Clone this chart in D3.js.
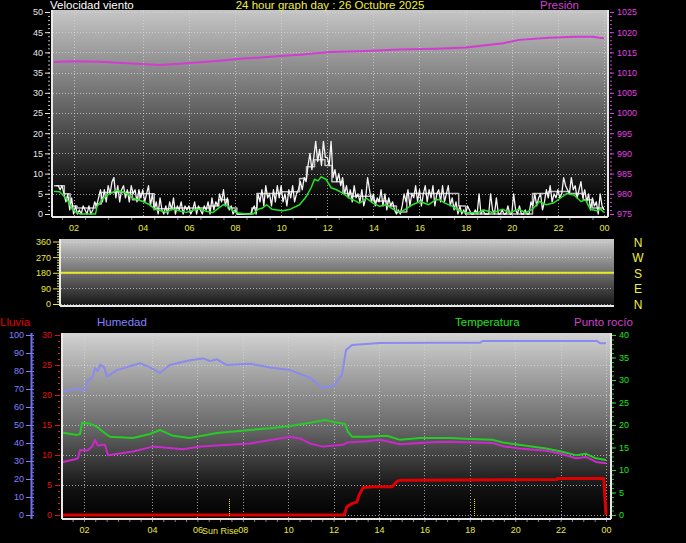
<!DOCTYPE html>
<html><head><meta charset="utf-8">
<script src="https://cdn.jsdelivr.net/npm/d3@7"></script>
<style>
html,body{margin:0;padding:0;background:#000;overflow:hidden}
svg{display:block}
</style></head><body>
<svg id="c" width="686" height="543"></svg>
<script>
// ---------- DATA ----------
// elapsed hours of the (25h, DST-change) day shown on a 24h axis
const hourTicks  = [1,4,6,8,10,12,14,16,18,20,22,24];
const hourLabels = ["02","04","06","08","10","12","14","16","18","20","22","00"];

const windStart = 0.25, windStep = 1/12;   // 5-minute samples
const windSpeed = [
 7,7,6,7,5, 3,5,1,4,0, 2,0,1,0,2,1,0,2,0,1, 3,2,4,6,3, 6,3,7,5,8,9,4,7,3,6,7,4,6,3,7, 5,6,3,6,4,
 6,3,5,7,2,5,1,3,0,4,1,0,
 2,0,3,1,4,0,2,1,3,0,2,1,
 2,0,1,3,0,2,1,0,2,1,3,0,
 4,1,3,2,5,3,6,2,4,1,2,0,
 1,0,0,0,0,0,0,0,0,1,2,0,
 5,3,6,2,7,4,5,2,6,3,7,4,
 7,3,5,2,6,4,7,3,5,6,8,6,
 9,8,12,15,11,14,18,13,16,12,18,14,
 14,12,18,9,11,8,10,7,9,5,7,4,
 6,3,7,4,5,3,6,2,4,9,6,3,
 5,2,4,3,6,2,5,1,4,2,3,1,
 0,1,0,2,5,3,6,2,5,4,7,3,
 6,2,5,7,3,6,4,7,2,5,6,3,
 7,3,5,7,2,4,1,3,0,2,0,1,
 0,2,1,0,0,1,0,5,0,1,0,0,
 0,5,1,0,4,0,0,1,0,0,2,0,
 0,5,1,0,2,0,0,1,0,0,3,2,
 5,2,4,5,1,3,6,4,7,3,5,4,
 6,4,5,9,7,6,5,9,6,7,4,6,
 8,4,6,3,5,1,4,2,3,0,5,2,
 1];

const windGust = [[0.15,7],[0.6,5],[0.85,2],[1.15,1.5],[1.95,2.5],[2.2,5.3],[2.8,5.5],[3.1,5.3],[3.55,3.5],[3.85,5],[4.5,1.3],[5.3,1.5],[5.9,1.5],[6.9,2],[7.3,3.5],[7.7,1.5],[8.08,0],[8.73,1.5],[8.95,5.1],[10.0,5.5],[10.8,8.8],[11.1,11.7],[11.45,13.4],[11.9,12],[12.2,8],[12.68,5.1],[13.1,4.4],[14.0,3.2],[14.6,2],[15.0,0.5],[15.45,5.1],[17.7,2],[18.0,0],[20.9,5.1],[21.6,5.6],[22.5,5.1],[23.1,3.5],[23.5,1.5],[24,1.5]];

const windAvg = [[0.15,5.6],[0.4,5.5],[0.73,3.5],[0.94,1.2],[1.15,0.3],[1.3,0],[1.95,0],[2.02,1.9],[2.23,3.5],[2.44,4.6],[2.88,5.9],[3.1,5.5],[3.3,5.1],[3.58,3.9],[4.01,3.1],[4.3,2.3],[4.52,1.2],[4.8,0.8],[5.03,0.4],[5.25,1.2],[5.46,1.0],[5.7,0.6],[5.9,0.4],[6.2,1.0],[6.47,1.2],[6.8,0.6],[7.05,0.4],[7.3,1.5],[7.5,2.3],[7.7,2.0],[7.9,0.8],[8.06,0.3],[8.5,0],[8.8,0],[9.0,1.2],[9.2,1.5],[9.37,2.3],[9.6,1.2],[10.07,0.8],[10.4,1.2],[10.8,2.3],[11.1,4.4],[11.3,6.5],[11.45,8.6],[11.6,8.2],[11.74,9.2],[11.94,8.6],[12.17,6.5],[12.4,6.0],[12.68,5.1],[12.97,3.9],[13.2,3.3],[13.4,2.7],[13.7,3.9],[13.98,2.7],[14.27,1.9],[14.55,2.3],[14.85,1.2],[15.14,0.4],[15.4,1.2],[15.7,2.3],[16.02,3.1],[16.4,2.3],[16.7,3.5],[16.89,3.5],[17.1,2.7],[17.4,2.0],[17.7,0.8],[18.0,0.4],[18.5,0.3],[18.8,1.0],[19.2,0.3],[19.6,1.2],[19.9,0.3],[20.3,1.2],[20.6,0.3],[20.9,1.2],[21.2,3.1],[21.5,2.3],[21.8,2.7],[22.1,3.9],[22.4,5.1],[22.7,4.7],[23.0,3.1],[23.2,3.5],[23.4,1.2],[23.7,0.8],[23.85,1.2],[24,0.4]];

const pressure = [[0.15,1012.6],[1.0,1012.8],[2.15,1012.7],[3.32,1012.3],[4.75,1011.9],[5.92,1012.3],[7.22,1012.9],[8.22,1013.4],[9.96,1014.1],[10.82,1014.4],[12.12,1015.1],[13.42,1015.3],[15.16,1015.7],[16.72,1015.9],[18.02,1016.2],[19.63,1017.25],[20.32,1018.1],[21.63,1018.6],[22.8,1018.9],[23.5,1018.9],[23.8,1018.6],[24,1018.5]];

const windTicks = [0,5,10,15,20,25,30,35,40,45,50];
const pressTicks = [975,980,985,990,995,1000,1005,1010,1015,1020,1025];

const dirTicks = [0,90,180,270,360];
const dirLetters = ["N","E","S","W","N"]; // at 0,90,180,270,360
const windDir = [[0,180],[24,180]];

const humidity = [[0.08,68.5],[0.7,70.5],[0.92,69],[1.05,69.4],[1.18,75],[1.36,76],[1.49,81.6],[1.62,80],[1.71,83.5],[1.89,82],[2.02,76.9],[2.46,80.5],[3.47,84.3],[3.91,82],[4.35,79],[4.79,83.3],[5.67,86],[6.25,87],[6.56,85.5],[6.86,86.5],[7.3,83.3],[8.32,84],[9.2,82],[10.08,80.5],[11.0,76],[11.49,70.5],[12.02,72],[12.37,78],[12.55,91.7],[12.81,94.4],[14.04,95.5],[16.51,95.7],[18.45,95.7],[18.58,96.7],[23.6,96.7],[23.74,95.4],[24,95.4]];

const temperature = [[0.08,18.3],[0.7,17.8],[0.83,18.0],[0.92,20.5],[1.27,20.3],[1.58,19.6],[1.84,18.5],[2.15,17.4],[3.16,17.1],[3.91,18.0],[4.35,18.9],[4.93,17.6],[5.67,17.1],[6.86,18.2],[8.32,18.9],[9.2,19.3],[10.08,19.8],[10.96,20.5],[11.62,21.1],[12.06,20.6],[12.5,20.2],[12.63,18.5],[12.81,17.4],[13.47,17.4],[14.35,17.6],[14.93,16.7],[15.8,17.1],[17.13,17.1],[18.0,16.9],[19.02,16.7],[19.46,16.1],[20.17,15.6],[21.36,14.8],[22.02,14.1],[22.68,13.3],[23.12,13.6],[23.56,12.6],[24,12.2]];

const dewpoint = [[0.08,11.8],[0.61,12.4],[0.74,12.6],[0.83,14.4],[1.18,14.4],[1.36,15.2],[1.49,16.7],[1.62,15.4],[1.8,15.6],[1.93,15.6],[2.06,13.3],[3.16,14.1],[4.04,15.2],[5.37,14.6],[6.11,15.2],[8.32,15.9],[10.08,17.4],[10.52,17.0],[10.96,15.9],[11.53,15.2],[12.41,15.6],[12.59,16.1],[13.47,16.4],[14.04,16.7],[14.93,15.7],[16.51,16.2],[17.13,16.3],[19.02,16.0],[19.46,15.3],[20.17,14.8],[21.36,14.3],[22.02,13.6],[22.68,12.6],[23.12,12.9],[23.56,11.8],[24,11.5]];

const rain = [[0.08,0],[12.46,0],[12.59,1.4],[12.81,1.9],[13.03,2.2],[13.12,3.3],[13.3,4.6],[13.74,4.7],[14.57,4.7],[14.79,5.6],[14.93,5.8],[21.84,5.9],[21.86,6.1],[23.9,6.1],[24.0,0]];

const humTicks  = [0,10,20,30,40,50,60,70,80,90,100];
const rainTicks = [0,5,10,15,20,25,30];
const tempTicks = [0,5,10,15,20,25,30,35,40];
const sunRise = 7.4, sunSet = 18.2;

// ---------- DRAW ----------
const FONT = '"Liberation Sans Narrow","Liberation Sans",Arial,sans-serif';
const svg = d3.select("#c");
const defs = svg.append("defs");
function grad(id, stops){
  const g = defs.append("linearGradient").attr("id",id).attr("x1",0).attr("y1",0).attr("x2",0).attr("y2",1);
  stops.forEach(s=>g.append("stop").attr("offset",s[0]).attr("stop-color",s[1]));
}
grad("gTop",[[0,"#c6c6c6"],[0.5,"#5e5e5e"],[0.9,"#080808"],[1,"#000"]]);
grad("gMid",[[0,"#cacaca"],[1,"#141414"]]);
grad("gBot",[[0,"#d2d2d2"],[0.5,"#6a6a6a"],[0.85,"#101010"],[1,"#000"]]);

const range = (a,b,s)=>d3.range(a,b+s/2,s);

function panel(x0,y0,x1,y1,gid){
  svg.append("rect").attr("x",x0).attr("y",y0).attr("width",x1-x0).attr("height",y1-y0).attr("fill",`url(#${gid})`);
}
function border(x0,y0,x1,y1,right){
  const g = svg.append("g").attr("stroke","#e8e8e8").attr("stroke-width",2);
  g.append("line").attr("x1",x0).attr("x2",x0).attr("y1",y0).attr("y2",y1);
  g.append("line").attr("x1",x0).attr("x2",x1).attr("y1",y1).attr("y2",y1);
  if(right) g.append("line").attr("x1",x1).attr("x2",x1).attr("y1",y0).attr("y2",y1);
}
function gridH(vals, y, x0, x1){
  svg.append("g").selectAll("line").data(vals).join("line")
    .attr("x1",x0).attr("x2",x1).attr("y1",d=>Math.round(y(d))+0.5).attr("y2",d=>Math.round(y(d))+0.5)
    .attr("stroke","#d8d8d8").attr("stroke-opacity",0.7).attr("stroke-dasharray","1,2");
}
function gridV(vals, x, y0, y1){
  svg.append("g").selectAll("line").data(vals).join("line")
    .attr("x1",d=>Math.round(x(d))+0.5).attr("x2",d=>Math.round(x(d))+0.5).attr("y1",y0).attr("y2",y1)
    .attr("stroke","#d8d8d8").attr("stroke-opacity",0.7).attr("stroke-dasharray","1,2");
}
function styleAxis(g, color, size){
  g.attr("font-family",FONT).attr("font-size",size||9);
  g.select(".domain").remove();
  g.selectAll("line").attr("stroke",color);
  g.selectAll("text").attr("fill",color);
  return g;
}
function minor(axisFn, scale, vals, pos, color, size, vertical){
  const ax = axisFn(scale).tickValues(vals).tickSize(size).tickFormat("");
  const g = svg.append("g").attr("transform", vertical ? `translate(${pos},0)` : `translate(0,${pos})`).call(ax);
  styleAxis(g,color);
}
function path(data, x, y, color, w, curve){
  svg.append("path").datum(data)
    .attr("d", d3.line().x(d=>x(d[0])).y(d=>y(d[1])).curve(curve||d3.curveLinear))
    .attr("fill","none").attr("stroke",color).attr("stroke-width",w).attr("stroke-linejoin","round");
}
const fmtInt = d3.format("d");

// ===== top panel: wind speed & pressure =====
const xTop = d3.scaleLinear().domain([0,24]).range([50.5,604]);
const yWind = d3.scaleLinear().domain([0,50]).range([214,12]);
const yPress = d3.scaleLinear().domain([975,1025]).range([214,12]);
panel(52,10,608,217,"gTop");
gridH(windTicks.slice(1), yWind, 53, 607);
gridV(hourTicks, xTop, 11, 216);

path(pressure, xTop, yPress, "#d23cd2", 2);
path(windGust, xTop, yWind, "#bcbcbc", 1.5, d3.curveStepAfter);
path(windSpeed.map((v,i)=>[windStart+i*windStep, v]), xTop, yWind, "#f4f4f4", 1.3);
path(windAvg, xTop, yWind, "#28e028", 1.5);
border(52,10,608,217,true);

let g;
minor(d3.axisLeft, yWind, range(0,50,1), 50, "#bbbbbb", 2, true);
g = svg.append("g").attr("transform","translate(50,0)")
  .call(d3.axisLeft(yWind).tickValues(windTicks).tickFormat(fmtInt).tickSize(5).tickPadding(2));
styleAxis(g,"#e6e6e6");
minor(d3.axisRight, yPress, range(975,1025,1), 610, "#d23cd2", 2, true);
g = svg.append("g").attr("transform","translate(610,0)")
  .call(d3.axisRight(yPress).tickValues(pressTicks).tickFormat(fmtInt).tickSize(4).tickPadding(3));
styleAxis(g,"#e040e0");
minor(d3.axisBottom, xTop, range(0.5,24,1), 218, "#888888", 2, false);
g = svg.append("g").attr("transform","translate(0,219)")
  .call(d3.axisBottom(xTop).tickValues(hourTicks).tickFormat((d,i)=>hourLabels[i]).tickSize(0).tickPadding(6));
styleAxis(g,"#e8e840");

// ===== middle panel: wind direction =====
const xMid = d3.scaleLinear().domain([0,24]).range([60,614]);
const yDir = d3.scaleLinear().domain([0,360]).range([304,241.5]);
panel(60,239,614,306,"gMid");
gridH(dirTicks, yDir, 61, 613);
path(windDir, xMid, yDir, "#e8e820", 2);
border(60,239,614,306,false);
minor(d3.axisLeft, yDir, range(0,360,15), 59, "#e8e840", 2, true);
g = svg.append("g").attr("transform","translate(57,0)")
  .call(d3.axisLeft(yDir).tickValues(dirTicks).tickFormat(fmtInt).tickSize(4).tickPadding(2));
styleAxis(g,"#e8e840");
svg.append("g").selectAll("text").data(dirTicks).join("text")
  .attr("x",638).attr("y",d=>yDir(d)+5).attr("text-anchor","middle")
  .attr("fill","#f0f040").attr("font-family","'Liberation Sans',Arial,sans-serif").attr("font-size",12)
  .text((d,i)=>dirLetters[i]);

// ===== bottom panel: rain, humidity, temperature, dew point =====
const xBot = d3.scaleLinear().domain([0,24]).range([61.2,606]);
const yRain = d3.scaleLinear().domain([0,30]).range([515,335]);
const yHum = d3.scaleLinear().domain([0,100]).range([515,335]);
const yTemp = d3.scaleLinear().domain([0,40]).range([515,335]);
panel(62,333,611,519,"gBot");
gridH(rainTicks.slice(1), yRain, 63, 610);
gridH([0], yRain, 63, 610);
gridV(hourTicks, xBot, 334, 518);

path(humidity, xBot, yHum, "#8a8af0", 2);
path(temperature, xBot, yTemp, "#24cc24", 2);
path(dewpoint, xBot, yTemp, "#cc28cc", 2);
path(rain, xBot, yRain, "#dc0000", 3);

// sunrise / sunset markers
svg.append("g").selectAll("line").data([sunRise, sunSet]).join("line")
  .attr("x1",d=>Math.round(xBot(d))+0.5).attr("x2",d=>Math.round(xBot(d))+0.5)
  .attr("y1",499).attr("y2",517).attr("stroke","#f0f000").attr("stroke-width",1).attr("stroke-dasharray","1,1");
border(62,333,611,519,true);

// humidity axis
svg.append("line").attr("x1",31.5).attr("x2",31.5).attr("y1",333).attr("y2",519).attr("stroke","#7070f0").attr("stroke-width",2);
minor(d3.axisRight, yHum, range(0,100,2), 32, "#7070f0", 2, true);
g = svg.append("g").attr("transform","translate(31,0)")
  .call(d3.axisLeft(yHum).tickValues(humTicks).tickFormat(fmtInt).tickSize(5).tickPadding(2));
styleAxis(g,"#8080ff");
// rain axis
minor(d3.axisLeft, yRain, range(0,30,1), 60, "#dd2020", 2, true);
g = svg.append("g").attr("transform","translate(59,0)")
  .call(d3.axisLeft(yRain).tickValues(rainTicks).tickFormat(fmtInt).tickSize(4).tickPadding(3));
styleAxis(g,"#e01010");
// temperature axis
minor(d3.axisRight, yTemp, range(0,40,1), 612, "#20c020", 2, true);
g = svg.append("g").attr("transform","translate(612,0)")
  .call(d3.axisRight(yTemp).tickValues(tempTicks).tickFormat(fmtInt).tickSize(4).tickPadding(3));
styleAxis(g,"#20e020");
// time axis
minor(d3.axisBottom, xBot, range(0.5,24,0.5), 520, "#888888", 2, false);
g = svg.append("g").attr("transform","translate(0,520)")
  .call(d3.axisBottom(xBot).tickValues(hourTicks).tickFormat((d,i)=>hourLabels[i]).tickSize(0).tickPadding(7));
styleAxis(g,"#e8e840");
svg.append("text").attr("x",xBot(sunRise)-9).attr("y",533.5).attr("text-anchor","middle")
  .attr("fill","#e8e840").attr("font-family",FONT).attr("font-size",9).text("Sun Rise");

// ===== titles =====
const TF = "'Liberation Sans',Arial,sans-serif";
function title(x,y,txt,color,anchor){
  svg.append("text").attr("x",x).attr("y",y).attr("fill",color).attr("font-family",TF)
    .attr("font-size",11.5).attr("text-anchor",anchor||"start").text(txt);
}
title(50,9,"Velocidad viento","#ffffff");
title(330,9,"24 hour graph day : 26 Octubre 2025","#f0f040","middle");
title(540,9,"Presión","#d040d0");
title(0,326,"Lluvia","#e00000");
title(97,326,"Humedad","#8080ff");
title(455,326,"Temperatura","#20e020");
title(574,326,"Punto rocío","#d040d0");
</script>
</body></html>
